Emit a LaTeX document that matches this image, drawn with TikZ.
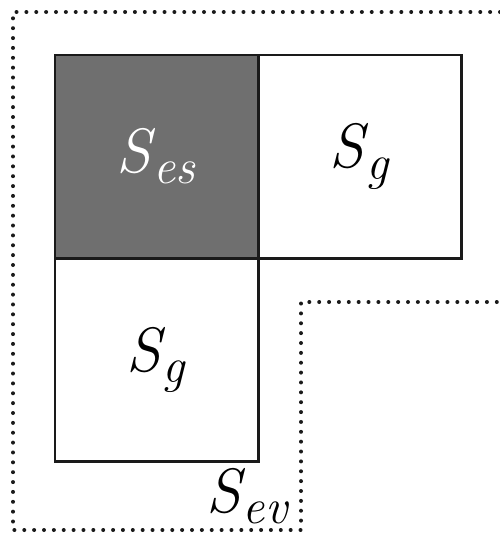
\documentclass[tikz,border=0pt]{standalone}
\usepackage{fontspec}
\usetikzlibrary{positioning}
\definecolor{ink}{HTML}{1A1A1A}
\definecolor{shade}{HTML}{6F6F6F}
\newcommand{\setname}[1]{\textit{S}\kern-0.04em\raisebox{-0.18em}{\fontsize{37}{40}\selectfont\textit{#1}}}
\tikzset{
  every node/.style={font=\fontsize{47}{50}\selectfont},
  cell/.style={draw=ink, line width=2pt, minimum size=152.5pt, inner sep=0pt, outer sep=0pt, fill=white},
  darkcell/.style={cell, fill=shade, text=white},
  dotline/.style={draw=ink, line width=3pt, line cap=round, dash pattern=on 0pt off 7.4pt},
}
\begin{document}
\begin{tikzpicture}[x=0.75pt, y=-0.75pt]
\useasboundingbox (0,0) rectangle (500,536);
% cells of the region
\node[darkcell] (es) at (156.5,156.5) {\setname{es}};
\node[cell, right=0pt of es] (gr) {\setname{g}};
\node[cell, below=0pt of es] (gb) {\setname{g}};
% dotted border of S_ev
\coordinate (a) at (500,12);
\coordinate (b) at (13,12);
\coordinate (c) at (13,530);
\coordinate (d) at (301,530);
\coordinate (e) at (301,302);
\coordinate (f) at (500,302);
\draw[dotline] (a) -- (b) -- (c) -- (d) -- (e) -- (f);
\node[anchor=base west, inner sep=0pt] (ev) at (206,512) {\setname{ev}};
\end{tikzpicture}
\end{document}
